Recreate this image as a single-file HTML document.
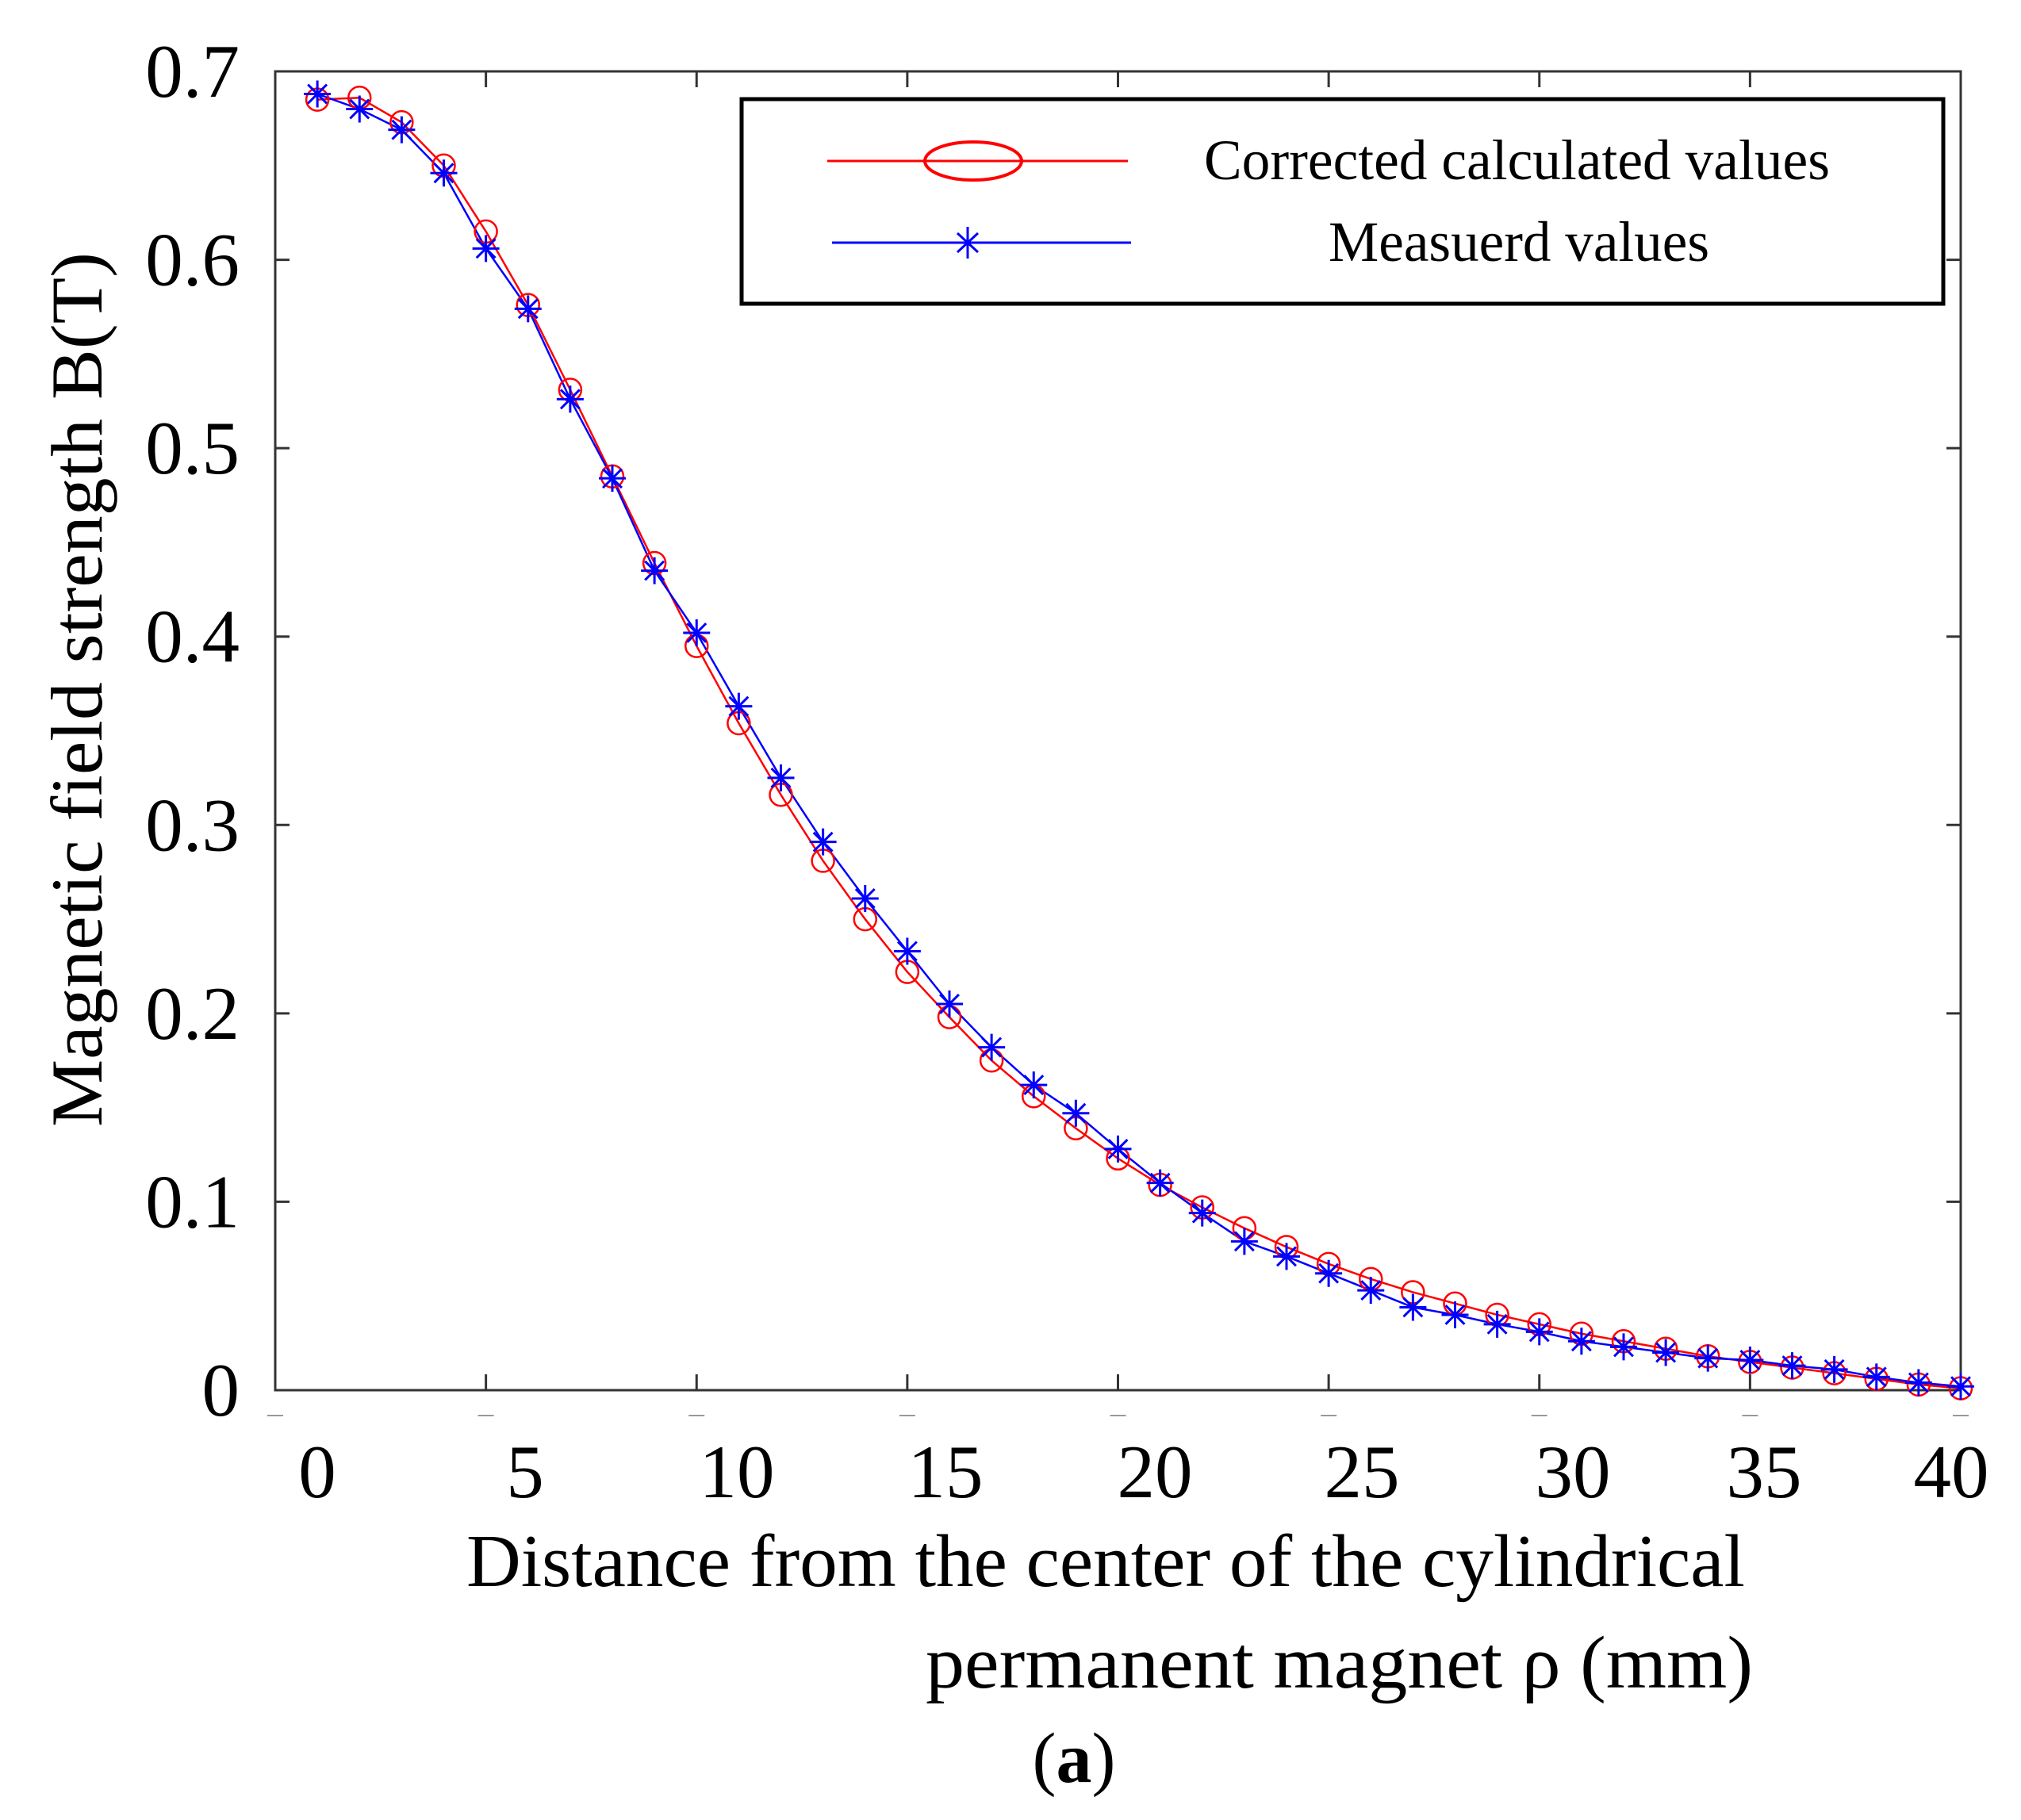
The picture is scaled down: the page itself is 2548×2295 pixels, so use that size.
<!DOCTYPE html>
<html><head><meta charset="utf-8"><style>
html,body{margin:0;padding:0;background:#fff}
svg{display:block}
text{font-family:"Liberation Serif",serif;fill:#000}
</style></head><body>
<svg id="chart" width="2548" height="2295" viewBox="0 0 2548 2295">
<g id="plot"></g>
<g>
<rect x="935" y="125" width="1515" height="258" fill="#fff" stroke="#000" stroke-width="5"/>
<line x1="1043" y1="203" x2="1422" y2="203" stroke="#f00" stroke-width="3"/>
<ellipse cx="1227" cy="203" rx="61" ry="24" fill="none" stroke="#f00" stroke-width="4"/>
<text x="1518" y="226" font-size="72" textLength="789" lengthAdjust="spacingAndGlyphs">Corrected calculated values</text>
<line x1="1049" y1="306" x2="1426" y2="306" stroke="#00f" stroke-width="3"/>
<path d="M1220,286V326M1207,294L1233,318M1207,318L1233,294" stroke="#00f" stroke-width="3"/>
<text x="1675" y="329" font-size="72" textLength="480" lengthAdjust="spacingAndGlyphs">Measuerd values</text>
</g>
<g>
<text transform="translate(128,1421) rotate(-90)" font-size="92" textLength="1103" lengthAdjust="spacingAndGlyphs">Magnetic field strength B(T)</text>
</g>
<text x="588" y="2000" font-size="94" textLength="1612" lengthAdjust="spacingAndGlyphs">Distance from the center of the cylindrical</text>
<text x="1167" y="2128" font-size="94" textLength="1043" lengthAdjust="spacingAndGlyphs">permanent magnet  ρ (mm)</text>
<text x="1354" y="2247" font-size="90" text-anchor="middle">(<tspan font-weight="bold">a</tspan>)</text>
</svg>
<script>
const xValues=[1,2,3,4,5,6,7,8,9,10,11,12,13,14,15,16,17,18,19,20,21,22,23,24,25,26,27,28,29,30,31,32,33,34,35,36,37,38,39,40];
const calcValues=[0.685,0.686,0.673,0.650,0.615,0.576,0.531,0.485,0.439,0.395,0.354,0.316,0.281,0.250,0.222,0.198,0.175,0.156,0.139,0.123,0.109,0.097,0.086,0.076,0.067,0.059,0.052,0.046,0.040,0.035,0.030,0.026,0.022,0.018,0.015,0.012,0.009,0.006,0.003,0.001];
const measValues=[0.688,0.680,0.669,0.646,0.606,0.574,0.526,0.484,0.435,0.402,0.363,0.325,0.291,0.261,0.233,0.205,0.182,0.162,0.147,0.128,0.110,0.094,0.079,0.071,0.062,0.053,0.044,0.040,0.035,0.031,0.026,0.023,0.020,0.017,0.016,0.013,0.011,0.007,0.004,0.002];
const yTicks=[0,0.1,0.2,0.3,0.4,0.5,0.6,0.7];
const yTickLabels=["0","0.1","0.2","0.3","0.4","0.5","0.6","0.7"];
const xTicks=[0,5,10,15,20,25,30,35,40];
const xTickLabels=["0","5","10","15","20","25","30","35","40"];

const L=347,R=2472,T=90,B=1753;
function sx(v){return L+(v-0)/(40-0)*(R-L);}
function sy(v){return B-(v-0)/(0.7-0)*(B-T);}
const NS="http://www.w3.org/2000/svg";
const g=document.getElementById('plot');
function mk(tag,attrs,parent){const e=document.createElementNS(NS,tag);for(const k in attrs)e.setAttribute(k,attrs[k]);(parent||g).appendChild(e);return e;}

const box=mk('rect',{x:L,y:T,width:R-L,height:B-T,fill:'none',stroke:'#333','stroke-width':3});



yTicks.forEach((v,i)=>{
  const y=sy(v);
  const t1=mk('line',{x1:L,y1:y,x2:L+18,y2:y,stroke:'#333','stroke-width':3});
  
  
  const t2=mk('line',{x1:R,y1:y,x2:R-18,y2:y,stroke:'#333','stroke-width':3});
  
  
  const tx=mk('text',{x:302,y:y+32,'text-anchor':'end','font-size':95});
  tx.textContent=yTickLabels[i];
  
  
});
const xLabelPos=[400,662,929,1192,1456,1717,1983,2224,2460];
xTicks.forEach((v,i)=>{
  const x=sx(v);
  const t1=mk('line',{x1:x,y1:B,x2:x,y2:B-20,stroke:'#333','stroke-width':3});
  
  
  const t2=mk('line',{x1:x,y1:T,x2:x,y2:T+20,stroke:'#333','stroke-width':3});
  
  
  const st=mk('line',{x1:x-10,y1:1785,x2:x+10,y2:1785,stroke:'#999','stroke-width':2});
  
  
  const tx=mk('text',{x:xLabelPos[i],y:1888,'text-anchor':'middle','font-size':95});
  tx.textContent=xTickLabels[i];
  
  
});

function pts(vals){return vals.map((v,i)=>sx(xValues[i])+','+sy(v)).join(' ');}
const lc=mk('polyline',{points:pts(calcValues),fill:'none',stroke:'#f00','stroke-width':2.5});


const lm=mk('polyline',{points:pts(measValues),fill:'none',stroke:'#00f','stroke-width':2.5});


calcValues.forEach((v,i)=>{
  const c=mk('circle',{cx:sx(xValues[i]),cy:sy(v),r:14,fill:'none',stroke:'#f00','stroke-width':2.5});
  
  
});
function star(cx,cy,r){
  return mk('path',{d:`M${cx-r},${cy}H${cx+r}M${cx},${cy-r}V${cy+r}M${cx-r*0.7},${cy-r*0.7}L${cx+r*0.7},${cy+r*0.7}M${cx-r*0.7},${cy+r*0.7}L${cx+r*0.7},${cy-r*0.7}`,stroke:'#00f','stroke-width':3,fill:'none'});
}
measValues.forEach((v,i)=>{
  const s=star(sx(xValues[i]),sy(v),17);
  
  
});
</script>
</body></html>
